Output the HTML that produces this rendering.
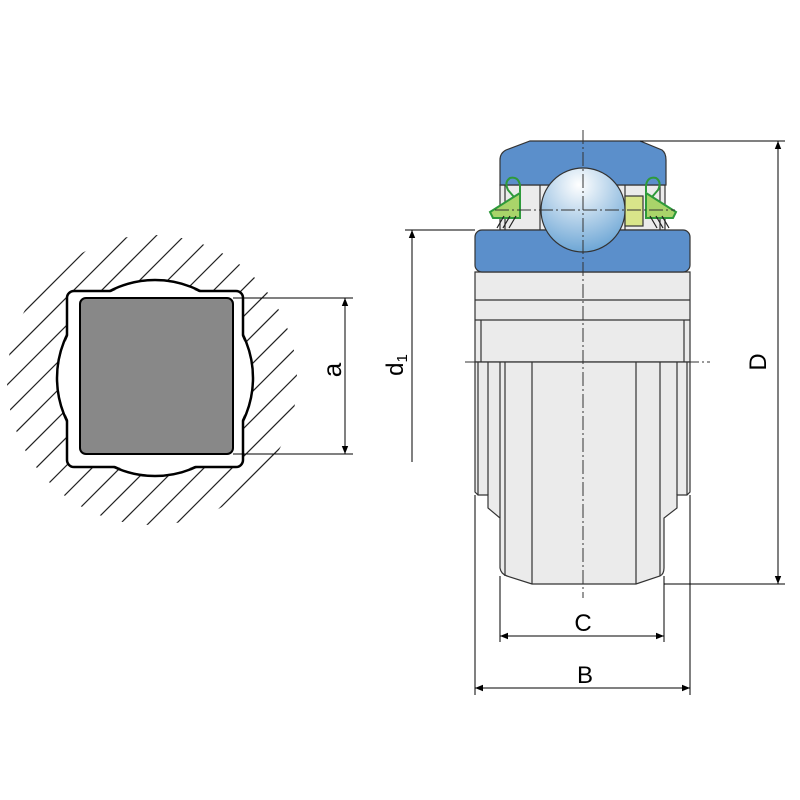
<!DOCTYPE html>
<html><head><meta charset="utf-8"><style>html,body{margin:0;padding:0;background:#fff}svg{display:block}</style></head>
<body>
<svg width="800" height="800" viewBox="0 0 800 800" xmlns="http://www.w3.org/2000/svg" font-family="Liberation Sans, sans-serif">
<defs>
<clipPath id="hc"><circle cx="152" cy="380" r="145"/></clipPath>
<radialGradient id="ball" cx="0.45" cy="0.2" r="0.9">
<stop offset="0" stop-color="#ffffff"/><stop offset="1" stop-color="#5b9bd0"/></radialGradient>
<marker id="ar" viewBox="0 0 10 10" refX="10" refY="5" markerWidth="8" markerHeight="12" orient="auto-start-reverse" markerUnits="userSpaceOnUse"><path d="M0,1 L10,5 L0,9 z" fill="#000"/></marker>
</defs>

<g clip-path="url(#hc)" stroke="#222" stroke-width="1.2">
<line x1="0" y1="280" x2="280" y2="0"/>
<line x1="0" y1="308" x2="308" y2="0"/>
<line x1="0" y1="336" x2="336" y2="0"/>
<line x1="0" y1="364" x2="364" y2="0"/>
<line x1="0" y1="392" x2="392" y2="0"/>
<line x1="0" y1="420" x2="420" y2="0"/>
<line x1="0" y1="448" x2="448" y2="0"/>
<line x1="0" y1="476" x2="476" y2="0"/>
<line x1="0" y1="504" x2="504" y2="0"/>
<line x1="0" y1="532" x2="532" y2="0"/>
<line x1="0" y1="560" x2="560" y2="0"/>
<line x1="0" y1="588" x2="588" y2="0"/>
<line x1="0" y1="616" x2="616" y2="0"/>
<line x1="0" y1="644" x2="644" y2="0"/>
<line x1="0" y1="672" x2="672" y2="0"/>
<line x1="0" y1="700" x2="700" y2="0"/>
<line x1="0" y1="728" x2="728" y2="0"/>
<line x1="0" y1="756" x2="756" y2="0"/>
</g>
<circle cx="155" cy="378" r="98" fill="#fff" stroke="#000" stroke-width="2.5"/>
<rect x="67" y="291" width="176" height="176" rx="7" fill="#fff" stroke="#000" stroke-width="2.5"/>
<circle cx="155" cy="378" r="96.5" fill="#fff"/>
<rect x="69" y="293" width="172" height="172" rx="6" fill="#fff"/>
<rect x="80" y="298" width="153" height="156" rx="6" fill="#888" stroke="#000" stroke-width="2"/>
<g stroke="#000" stroke-width="1">
<line x1="233" y1="298" x2="353" y2="298"/>
<line x1="233" y1="454" x2="353" y2="454"/>
<line x1="345" y1="298" x2="345" y2="454" marker-start="url(#ar)" marker-end="url(#ar)"/>
</g>
<text x="0" y="0" transform="translate(341,370) rotate(-90)" font-size="26" text-anchor="middle">a</text>

<g stroke="#333" stroke-width="1.2">
<path d="M475,272 L690,272 L690,362 L475,362 Z" fill="#ebebeb"/>
<line x1="475" y1="300" x2="690" y2="300"/>
<line x1="475" y1="320" x2="690" y2="320"/>
<line x1="481" y1="320" x2="481" y2="362"/>
<line x1="684" y1="320" x2="684" y2="362"/>
<path d="M475,362 L475,492 L478,495 L488,495 L488,508 L500,518 L500,568 Q501,574 507,576 L532,584 L636,584 L660,576 Q664,574 664,568 L664,518 L677,508 L677,495 L687,495 L690,492 L690,362 Z" fill="#ebebeb"/>
<line x1="478" y1="362" x2="478" y2="495"/>
<line x1="488" y1="362" x2="488" y2="495"/>
<line x1="500" y1="362" x2="500" y2="518"/>
<line x1="505" y1="362" x2="505" y2="576"/>
<line x1="532" y1="362" x2="532" y2="584"/>
<line x1="636" y1="362" x2="636" y2="584"/>
<line x1="660" y1="362" x2="660" y2="576"/>
<line x1="677" y1="362" x2="677" y2="495"/>
<line x1="687" y1="362" x2="687" y2="495"/>
<rect x="500" y="185" width="165" height="45" fill="#ebebeb"/>
<line x1="505" y1="185" x2="505" y2="230"/>
<line x1="540" y1="185" x2="540" y2="230"/>
<line x1="625" y1="185" x2="625" y2="230"/>
<line x1="660" y1="185" x2="660" y2="230"/>
<rect x="625" y="196" width="18" height="30" fill="#d9e58a"/>
<path d="M530,141 L640,141 L662,150 Q666,153 666,160 L666,185 L500,185 L500,160 Q500,153 506,150 Z" fill="#5b8fcb"/>
<rect x="475" y="230" width="215" height="42" rx="7" fill="#5b8fcb"/>
<circle cx="583" cy="210" r="42" fill="url(#ball)"/>
</g>
<g stroke="#2e9a3a" stroke-width="2" fill="none">
<path d="M520,192 L520,185 Q518,176 510,178 Q504,182 508,190 L514,197"/>
<path d="M520,193 L520,218 L493,218 L490,212 Z" fill="#a9d46a"/>
<path d="M646,192 L646,185 Q648,176 656,178 Q662,182 658,190 L652,197"/>
<path d="M646,193 L646,218 L673,218 L676,212 Z" fill="#a9d46a"/>
</g>
<g stroke="#222" stroke-width="1.2">
<line x1="497" y1="228" x2="504" y2="216"/><line x1="503" y1="228" x2="510" y2="216"/><line x1="509" y1="228" x2="516" y2="216"/>
<line x1="669" y1="228" x2="662" y2="216"/><line x1="663" y1="228" x2="656" y2="216"/><line x1="657" y1="228" x2="650" y2="216"/>
</g>
<g stroke="#333" stroke-width="1" stroke-dasharray="14,3,2,3">
<line x1="583" y1="130" x2="583" y2="598"/>
<line x1="465" y1="362" x2="710" y2="362"/>
<line x1="495" y1="210" x2="675" y2="210"/>
</g>
<g stroke="#000" stroke-width="1">
<line x1="405" y1="230" x2="475" y2="230"/>
<line x1="412" y1="230" x2="412" y2="462" marker-start="url(#ar)"/>
<line x1="640" y1="141" x2="785" y2="141"/>
<line x1="664" y1="584" x2="785" y2="584"/>
<line x1="778" y1="141" x2="778" y2="584" marker-start="url(#ar)" marker-end="url(#ar)"/>
<line x1="500" y1="576" x2="500" y2="642"/>
<line x1="664" y1="576" x2="664" y2="642"/>
<line x1="500" y1="636" x2="664" y2="636" marker-start="url(#ar)" marker-end="url(#ar)"/>
<line x1="475" y1="495" x2="475" y2="695"/>
<line x1="690" y1="495" x2="690" y2="695"/>
<line x1="475" y1="688" x2="690" y2="688" marker-start="url(#ar)" marker-end="url(#ar)"/>
</g>
<text transform="translate(403,365) rotate(-90)" font-size="24" text-anchor="middle">d<tspan font-size="15" dy="4">1</tspan></text>
<text transform="translate(766,362) rotate(-90)" font-size="24" text-anchor="middle">D</text>
<text x="583" y="631" font-size="24" text-anchor="middle">C</text>
<text x="585" y="683" font-size="24" text-anchor="middle">B</text>
</svg>
</body></html>
